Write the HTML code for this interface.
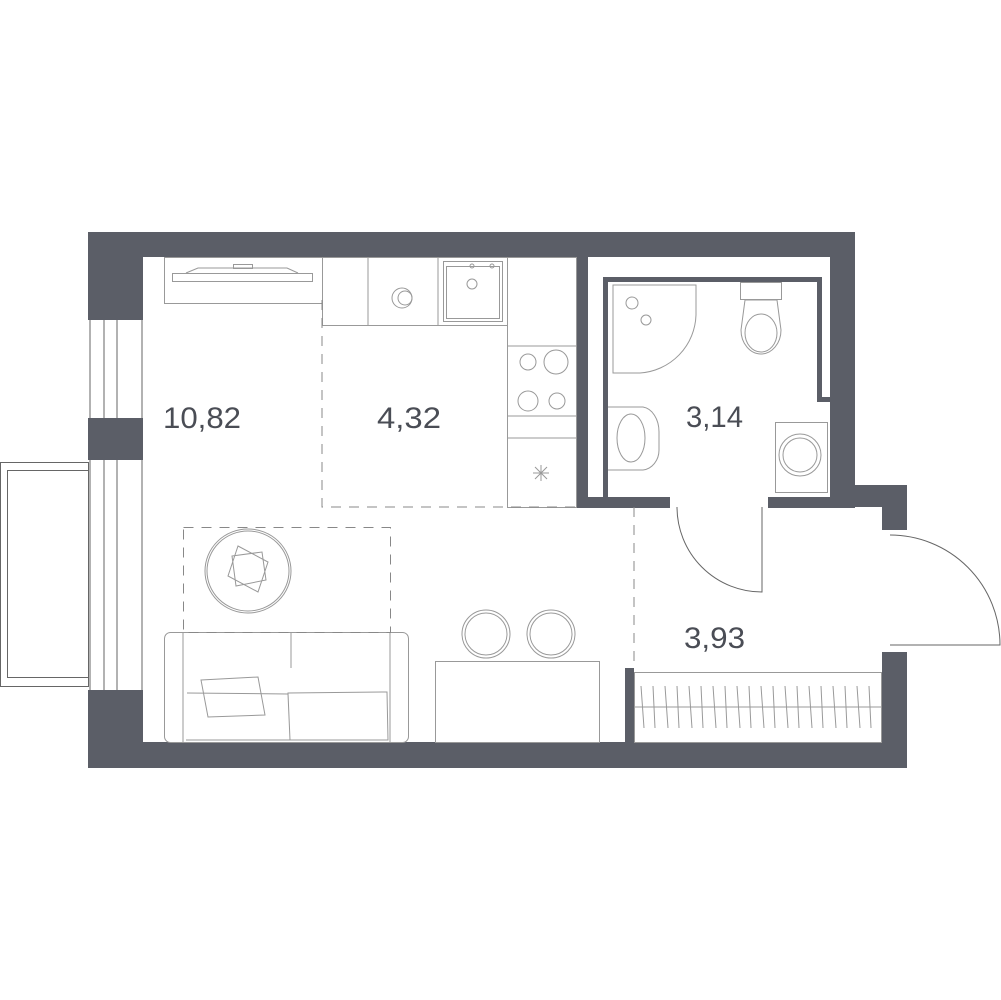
<!DOCTYPE html>
<html><head><style>html,body{margin:0;padding:0;background:#fff}svg{display:block}</style></head>
<body>
<svg width="1001" height="1000" viewBox="0 0 1001 1000" xmlns="http://www.w3.org/2000/svg">
<g fill="#5b5e67">
<rect x="88" y="232" width="767" height="25"/>
<rect x="88" y="232" width="55" height="88"/>
<rect x="88" y="418" width="55" height="42"/>
<rect x="88" y="690" width="55" height="78"/>
<rect x="88" y="742" width="819" height="26"/>
<rect x="830" y="232" width="25" height="275"/>
<rect x="830" y="485" width="77" height="22"/>
<rect x="882" y="485" width="25" height="45"/>
<rect x="882" y="652" width="25" height="116"/>
<rect x="577" y="257" width="11" height="250"/>
<rect x="577" y="497" width="93" height="11"/>
<rect x="768" y="497" width="87" height="11"/>
<rect x="603" y="277" width="5" height="220"/>
<rect x="603" y="277" width="219" height="5"/>
<rect x="817" y="277" width="5" height="125"/>
<rect x="817" y="397" width="13" height="5"/>
<rect x="625" y="668" width="9" height="74"/>
</g>
<g fill="none" stroke="#666" stroke-width="1">
<line x1="90" y1="320" x2="90" y2="418"/><line x1="104" y1="320" x2="104" y2="418"/><line x1="117" y1="320" x2="117" y2="418"/><line x1="142" y1="320" x2="142" y2="418"/>
<line x1="90" y1="460" x2="90" y2="690"/><line x1="104" y1="460" x2="104" y2="690"/><line x1="117" y1="460" x2="117" y2="690"/><line x1="142" y1="460" x2="142" y2="690"/>
<rect x="0.5" y="462.5" width="88" height="224"/>
<rect x="7.5" y="470.5" width="81" height="207"/>
<path d="M677 507 A85 85 0 0 0 762 592 L762 507"/>
<path d="M890 535 A110 110 0 0 1 1000 645 L890 645"/>
</g>
<g fill="none" stroke="#999" stroke-width="1">
<rect x="634.5" y="672.5" width="247" height="70"/>
<line x1="634" y1="707" x2="882" y2="707"/>
<path d="M641 686 L644 728 M653 686 L655 728 M665 686 L668 728 M677 686 L679 728 M689 686 L692 728 M701 686 L703 728 M713 686 L716 728 M725 686 L727 728 M737 686 L740 728 M749 686 L751 728 M761 686 L764 728 M773 686 L775 728 M785 686 L788 728 M797 686 L799 728 M809 686 L812 728 M821 686 L823 728 M833 686 L836 728 M845 686 L847 728 M857 686 L860 728 M869 686 L871 728"/>
<rect x="164.5" y="257.5" width="158" height="46"/>
<rect x="172.5" y="273.5" width="140" height="8"/>
<path d="M186 273 L198 268 L287 268 L298 273"/><rect x="233.5" y="264.5" width="19" height="4"/>
<rect x="322.5" y="257.5" width="185" height="68"/>
<line x1="368" y1="257" x2="368" y2="325"/><line x1="438" y1="257" x2="438" y2="325"/>
<rect x="443.5" y="261.5" width="59" height="60"/><rect x="446.5" y="266.5" width="53" height="52"/>
<circle cx="472" cy="284" r="5"/><circle cx="472" cy="266" r="2"/><circle cx="492" cy="266" r="2"/>
<circle cx="402" cy="298" r="10"/><circle cx="405" cy="298" r="7"/>
<rect x="507.5" y="257.5" width="69" height="250"/>
<line x1="507" y1="346" x2="577" y2="346"/><line x1="507" y1="416" x2="577" y2="416"/><line x1="507" y1="438" x2="577" y2="438"/>
<circle cx="528" cy="362" r="8"/><circle cx="556" cy="362" r="12"/><circle cx="528" cy="401" r="10"/><circle cx="557" cy="401" r="8"/>
<path d="M541 465 L541 481 M533 473 L549 473 M535 467 L547 479 M547 467 L535 479"/>
<path d="M613 285 L696 285 L696 315 A60 60 0 0 1 640 373 L613 373 Z"/>
<circle cx="632" cy="303" r="6"/><circle cx="646" cy="320" r="5"/>
<rect x="740.5" y="282.5" width="41" height="17"/>
<path d="M745 300 L777 300 L781 330 A20 24 0 1 1 741 330 Z"/><ellipse cx="761" cy="333" rx="16" ry="19"/>
<path d="M608 407 L643 407 A18 25 0 0 1 659 432 L659 450 A18 20 0 0 1 643 470 L608 470"/><ellipse cx="631" cy="438" rx="14" ry="24"/>
<rect x="775.5" y="422.5" width="52" height="70"/><circle cx="800" cy="455" r="21"/><circle cx="800" cy="455" r="17"/>
<ellipse cx="248" cy="571" rx="43" ry="42"/><ellipse cx="248" cy="571" rx="41" ry="40"/>
<path d="M238 546 L268 562 L258 592 L228 576 Z M232 556 L262 552 L266 580 L236 586 Z"/>
<rect x="164.5" y="632.5" width="244" height="110" rx="6"/>
<line x1="183" y1="632" x2="183" y2="742"/><line x1="390" y1="632" x2="390" y2="742"/>
<line x1="291" y1="632" x2="291" y2="668"/>
<path d="M201 680 L258 677 L265 715 L208 717 Z"/>
<path d="M288 693 L387 692 L388 740 L290 740 Z M187 693 L288 694 L290 740 L186 740"/>
<ellipse cx="486" cy="634" rx="24" ry="24"/><ellipse cx="486" cy="634" rx="21" ry="21"/>
<ellipse cx="551" cy="634" rx="24" ry="24"/><ellipse cx="551" cy="634" rx="21" ry="21"/>
<rect x="435.5" y="661.5" width="164" height="81"/>
</g>
<g fill="none" stroke="#888" stroke-width="1" stroke-dasharray="10,8">
<path d="M322 300 L322 507 L577 507"/>
<line x1="634" y1="507" x2="634" y2="668"/>
<rect x="183.5" y="527.5" width="207" height="105"/>
</g>
<g fill="#4a4d55" font-family="'Liberation Sans',sans-serif" font-size="30">
<text x="163" y="428" textLength="78" lengthAdjust="spacingAndGlyphs">10,82</text>
<text x="377" y="428" textLength="64" lengthAdjust="spacingAndGlyphs">4,32</text>
<text x="686" y="427" textLength="57" lengthAdjust="spacingAndGlyphs">3,14</text>
<text x="684" y="648" textLength="61" lengthAdjust="spacingAndGlyphs">3,93</text>
</g>
</svg>
</body></html>
